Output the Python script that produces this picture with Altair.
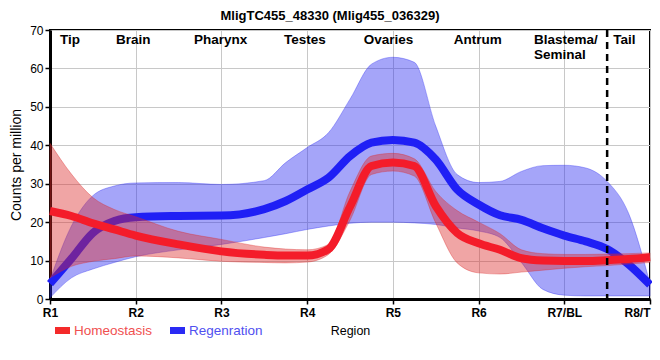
import json
import altair as alt
import pandas as pd

# ---------------- data ----------------
POS = [1, 1.25, 1.5, 1.75, 2, 2.5, 3, 3.5, 3.75, 4, 4.25, 4.5, 4.75, 5,
       5.25, 5.5, 5.75, 6, 6.25, 6.5, 6.75, 7, 7.25, 7.5, 7.75, 8]

HOMEO_MID = [22.9, 21.6, 19.7, 18.1, 16.5, 14.2, 12.4, 11.5, 11.3, 11.3, 13.0, 24.0, 34.6, 35.5,
             34.6, 24.2, 17.2, 14.5, 12.8, 10.6, 10.0, 9.9, 9.9, 10.1, 10.4, 10.9]
HOMEO_LO = [5.5, 8.5, 9.8, 10.5, 11.2, 10.7, 9.8, 9.5, 9.4, 9.6, 11.6, 20.5, 32.4, 33.3,
            32.0, 19.8, 9.4, 6.8, 6.5, 7.0, 7.5, 8.0, 8.4, 8.7, 9.1, 9.5]
HOMEO_HI = [40.5, 32.5, 26.4, 23.3, 21.4, 17.6, 15.5, 13.5, 13.0, 12.8, 14.2, 28.0, 37.2, 37.9,
            36.5, 28.0, 23.0, 20.0, 17.0, 12.8, 11.8, 11.6, 11.6, 11.7, 11.8, 12.0]

REGEN_MID = [4.0, 10.5, 17.2, 20.3, 21.3, 21.6, 21.7, 23.4, 25.5, 28.5, 31.6, 37.2, 40.7, 41.4,
             40.7, 36.3, 28.5, 24.6, 21.8, 20.6, 18.4, 16.5, 15.0, 13.0, 9.0, 3.7]
REGEN_LO = [0.3, 5.5, 7.8, 9.5, 11.0, 12.8, 14.2, 16.0, 17.0, 18.1, 19.0, 19.7, 20.0, 20.0,
            19.8, 19.4, 18.5, 17.7, 16.0, 9.5, 2.5, 1.0, 0.8, 0.8, 0.8, 0.8]
REGEN_HI = [5.0, 19.0, 26.9, 29.4, 30.2, 30.3, 29.8, 30.8, 35.5, 39.4, 43.3, 52.0, 61.1, 62.9,
            61.6, 45.0, 32.4, 30.3, 30.6, 33.2, 34.7, 34.8, 34.1, 30.6, 22.3, 4.0]

SERIES = ["Homeostasis", "Regenration"]
TICK_LABELS = ["R1", "R2", "R3", "R4", "R5", "R6", "R7/BL", "R8/T"]
REGION_NAMES = ["Tip", "Brain", "Pharynx", "Testes", "Ovaries", "Antrum", "Blastema/\nSeminal", "Tail"]
REGION_POS = [1.117, 1.77, 2.68, 3.73, 4.66, 5.71, 6.647, 7.57]
DASH_POS = [7.5]
TITLE = "MligTC455_48330 (Mlig455_036329)"

# ---------------- build tables ----------------
df = pd.concat([
    pd.DataFrame({"pos": POS, "mid": HOMEO_MID, "lo": HOMEO_LO, "hi": HOMEO_HI, "series": SERIES[0]}),
    pd.DataFrame({"pos": POS, "mid": REGEN_MID, "lo": REGEN_LO, "hi": REGEN_HI, "series": SERIES[1]}),
])
regions = pd.DataFrame({"pos": REGION_POS, "name": REGION_NAMES})
dash = pd.DataFrame({"pos": DASH_POS})

W, H = 600, 269
FONT = "Liberation Sans"
RED_LINE, BLUE_LINE = "#f41c2a", "#1f1ff5"
RED_BAND, BLUE_BAND = "#dc2828", "#2828f0"

X_ENC = alt.X(
    "pos:Q",
    scale=alt.Scale(domain=[1, 8], nice=False, zero=False),
    axis=alt.Axis(
        values=list(range(1, 9)),
        labelExpr=f"{json.dumps(TICK_LABELS)}[round(datum.value) - 1]",
        labelAlign={"condition": {"test": f"datum.value == {len(TICK_LABELS)}", "value": "right"},
                    "value": "center"},
        title="Region",
        grid=True,
    ),
)
Y_SCALE = alt.Scale(domain=[0, 70], nice=False)
Y_AXIS = alt.Axis(values=list(range(0, 71, 10)), title="Counts per million", grid=True)


def band(series, color):
    return alt.Chart(df).transform_filter(alt.datum.series == series).mark_area(
        color=color, fillOpacity=0.42, stroke=color, strokeOpacity=0.35, strokeWidth=1,
        interpolate="monotone",
    ).encode(x=X_ENC, y=alt.Y("lo:Q", scale=Y_SCALE, axis=Y_AXIS), y2="hi:Q")


def line(series, color):
    return alt.Chart(df).transform_filter(alt.datum.series == series).mark_line(
        color=color, strokeWidth=8, interpolate="monotone", strokeCap="butt",
    ).encode(x=X_ENC, y=alt.Y("mid:Q", scale=Y_SCALE, axis=Y_AXIS))


rule = alt.Chart(dash).mark_rule(color="black", strokeWidth=2.5, strokeDash=[7, 5]).encode(
    x=X_ENC, y=alt.value(0), y2=alt.value(H + 6)
)

labels = alt.Chart(regions).mark_text(
    align="left", baseline="top", font=FONT, fontSize=13.5, fontWeight="bold",
    color="black", lineBreak="\n", lineHeight=14.5,
).encode(x=X_ENC, y=alt.value(3), text="name:N")

leg_df0 = pd.DataFrame({"s": [SERIES[0]]})
leg_df1 = pd.DataFrame({"s": [SERIES[1]]})
leg_rect0 = alt.Chart(leg_df0).mark_rect(color="#f42a2a").encode(
    x=alt.value(5), x2=alt.value(20), y=alt.value(297), y2=alt.value(304))
leg_text0 = alt.Chart(leg_df0).mark_text(
    align="left", baseline="alphabetic", font=FONT, fontSize=13.5, color="#f05050"
).encode(x=alt.value(24), y=alt.value(305), text="s:N")
leg_rect1 = alt.Chart(leg_df1).mark_rect(color="#2a2af4").encode(
    x=alt.value(120), x2=alt.value(135), y=alt.value(297), y2=alt.value(304))
leg_text1 = alt.Chart(leg_df1).mark_text(
    align="left", baseline="alphabetic", font=FONT, fontSize=13.5, color="#5050f0"
).encode(x=alt.value(139), y=alt.value(305), text="s:N")

chart = alt.layer(
    band(SERIES[1], BLUE_BAND),
    line(SERIES[1], BLUE_LINE),
    band(SERIES[0], RED_BAND),
    line(SERIES[0], RED_LINE),
    rule,
    labels,
    leg_rect0, leg_text0, leg_rect1, leg_text1,
).properties(
    width=W, height=H,
    title=alt.TitleParams(TITLE, font=FONT, fontSize=13, fontWeight="bold", anchor="middle",
                          offset=1, dx=-20, color="black"),
    autosize="none",
    padding={"left": 42, "top": 22, "right": 2, "bottom": 53},
).configure_view(
    stroke="black", strokeWidth=2
).configure_axis(
    gridColor="#c8c8c8", gridWidth=1, domainColor="black", domainWidth=3,
    tickColor="black", tickSize=5, tickWidth=1.5,
    labelFont=FONT, titleFont=FONT, labelColor="black", titleColor="black",
    titleFontWeight="normal",
).configure_axisX(
    labelFontSize=12, labelFontWeight="bold", labelPadding=3, titleFontSize=12.5,
    titlePadding=6, labelFlush=False,
).configure_axisY(
    labelFontSize=12, labelPadding=2, titleFontSize=14, titlePadding=6,
)

chart.save("out.html", embed_options={"renderer": "svg", "actions": False})
